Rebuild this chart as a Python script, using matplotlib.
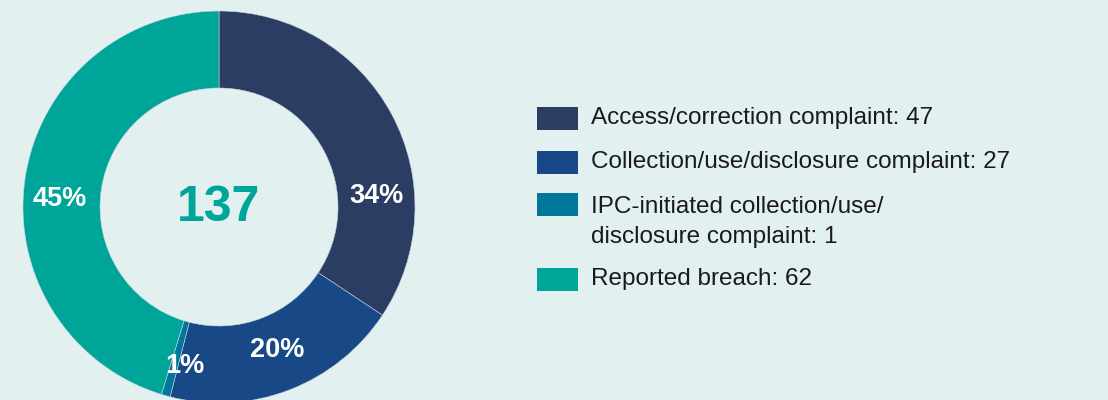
import numpy as np
import matplotlib.pyplot as plt
from matplotlib.patches import Rectangle

categories = ['Access/correction complaint', 'Collection/use/disclosure complaint',
              'IPC-initiated collection/use/\ndisclosure complaint', 'Reported breach']
counts = [47, 27, 1, 62]
pct_labels = ['34%', '20%', '1%', '45%']
colors = ['#2B3D63', '#184885', '#00779B', '#00A59A']
bg = '#E2F0F0'

plt.rcParams['font.family'] = ['Liberation Sans', 'DejaVu Sans']

fig = plt.figure(figsize=(11.08, 4), dpi=100, facecolor=bg)
ax = fig.add_axes([0, 0, 1, 1])
ax.set_facecolor(bg)

cx, cy = 219, 193
R = 196
ax.pie(counts, colors=colors, startangle=90, counterclock=False, radius=R,
       center=(cx, cy), frame=True,
       wedgeprops=dict(width=77, edgecolor='#c8d4dc', linewidth=0.4))
ax.set_xlim(0, 1108)
ax.set_ylim(0, 400)
ax.set_aspect('equal')
ax.axis('off')

# label angles (deg) tweaked to sit like the original
label_ang = [4, -68, -102, 177]
label_r = [158, 154, 163, 159]
for t, a, r in zip(pct_labels, label_ang, label_r):
    x = cx + r * np.cos(np.radians(a))
    y = cy + r * np.sin(np.radians(a))
    ax.text(x, y, t, color='white', fontsize=19.5, fontweight='bold',
            ha='center', va='center')

ax.text(cx, cy - 1, str(sum(counts)), color='#00A59A', fontsize=36,
        fontweight='bold', ha='center', va='center')

# legend
row_y = [282, 238, 196, 121]
for lab, n, c, y in zip(categories, counts, colors, row_y):
    ax.add_patch(Rectangle((537, y - 11.5), 41, 23, color=c, lw=0))
    ty = y if '\n' not in lab else y - 18
    ax.text(591, ty, f'{lab}: {n}', color='#1a1a1a', fontsize=17.5,
            ha='left', va='center', linespacing=1.52)

fig.savefig('out.png', dpi=100, facecolor=bg)
